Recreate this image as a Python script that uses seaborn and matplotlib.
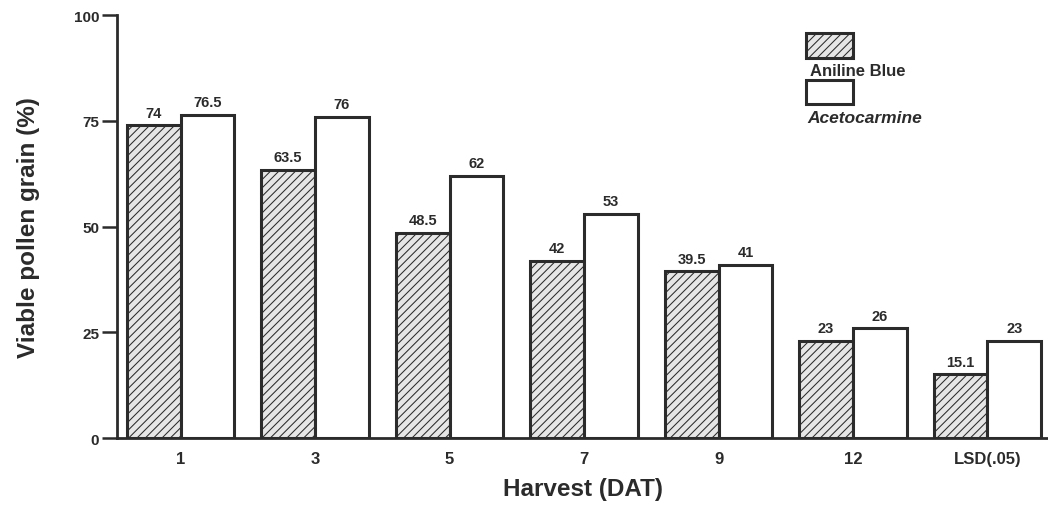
import pandas as pd
import matplotlib.pyplot as plt
import seaborn as sns
from matplotlib.patches import Patch

# viable pollen grain (%) per harvest day after treatment
harvest = ['1', '3', '5', '7', '9', '12', 'LSD(.05)']
aniline_blue = [74, 63.5, 48.5, 42, 39.5, 23, 15.1]
acetocarmine = [76.5, 76, 62, 53, 41, 26, 23]
stains = ['Aniline Blue', 'Acetocarmine']
yticks = [0, 25, 50, 75, 100]

data = pd.DataFrame({
    'Harvest': harvest * 2,
    'Viable': aniline_blue + acetocarmine,
    'Stain': [stains[0]] * len(harvest) + [stains[1]] * len(harvest),
})

sns.set_style('ticks')
plt.rcParams['font.family'] = ['Liberation Sans', 'DejaVu Sans']
plt.rcParams['font.weight'] = 'bold'
plt.rcParams['hatch.linewidth'] = 0.75

ink = '#2b2b2b'
shade = '#e6e6e6'

fig = plt.figure(figsize=(10.48, 5.06), dpi=100)
ax = fig.add_axes([0.112, 0.132, 0.888, 0.836])

sns.barplot(data=data, x='Harvest', y='Viable', hue='Stain', order=harvest,
            hue_order=stains, palette=[shade, 'white'], edgecolor=ink,
            linewidth=2.2, width=0.8, legend=False, ax=ax)

for bar in ax.containers[0]:
    bar.set_hatch('////')

for cont in ax.containers:
    ax.bar_label(cont, fmt='%g', padding=4, fontsize=10.5, fontweight='bold', color=ink)

ax.set_xlim(-0.47, 6.45)
ax.set_ylim(0, 100)
ax.set_yticks(yticks)
ax.tick_params(axis='y', length=11, width=1.8, color=ink, labelsize=11, labelcolor=ink, pad=2)
ax.tick_params(axis='x', length=0, labelsize=12, labelcolor=ink, pad=9)
for lab in ax.get_xticklabels() + ax.get_yticklabels():
    lab.set_fontweight('bold')

sns.despine(ax=ax, top=True, right=True)
for side in ['left', 'bottom']:
    ax.spines[side].set_linewidth(2)
    ax.spines[side].set_color(ink)

ax.set_xlabel('Harvest (DAT)', fontsize=17.5, fontweight='bold', color=ink, labelpad=8)
ax.set_ylabel('Viable pollen grain (%)', fontsize=17.5, fontweight='bold', color=ink, labelpad=24)

# legend: boxes with their names written underneath
handles = [Patch(facecolor=shade, edgecolor=ink, hatch='////', linewidth=2.2),
           Patch(facecolor='white', edgecolor=ink, linewidth=2.2)]
ax.legend(handles, ['', ''], loc='upper left', bbox_to_anchor=(0.740, 0.957),
          frameon=False, handlelength=3.4, handleheight=2.3, labelspacing=1.62,
          borderpad=0, borderaxespad=0, handletextpad=0, fontsize=10)
ax.text(0.744, 0.870, stains[0], transform=ax.transAxes, fontsize=12,
        fontweight='bold', color=ink, va='center', ha='left')
ax.text(0.741, 0.757, stains[1], transform=ax.transAxes, fontsize=12.5,
        fontweight='bold', fontstyle='italic', color=ink, va='center', ha='left')

plt.savefig('out.png', dpi=100)
